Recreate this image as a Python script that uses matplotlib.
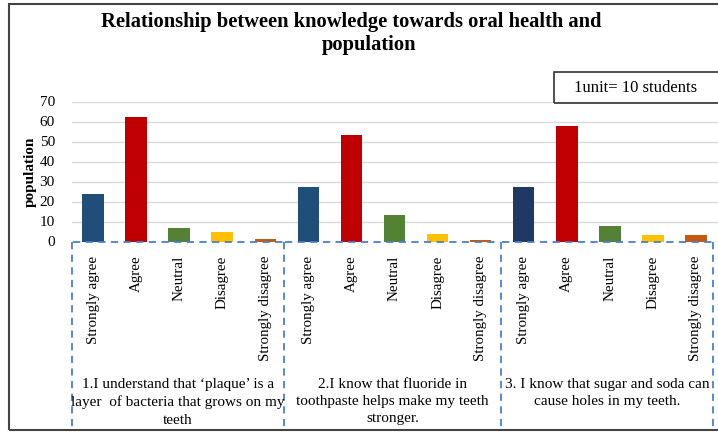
import numpy as np
import matplotlib
matplotlib.use("Agg")
import matplotlib.pyplot as plt
import matplotlib.transforms as mtransforms
from matplotlib.patches import Rectangle

# Survey responses (population, 1 unit = 10 students)
responses = ["Strongly agree", "Agree", "Neutral", "Disagree", "Strongly disagree"]
statements = [
    "1.I understand that \u2018plaque\u2019 is a\nlayer  of bacteria that grows on my\nteeth",
    "2.I know that fluoride in\ntoothpaste helps make my teeth\nstronger.",
    "3. I know that sugar and soda can\ncause holes in my teeth.",
]
plaque = [24, 62.5, 7, 5, 1.5]
fluoride = [27.5, 53.5, 13.5, 4, 1]
sugar = [27.5, 58, 8, 3.5, 3.5]

palette = ["#1F4E79", "#C00000", "#548235", "#FFC000", "#C55A11"]

plt.rcParams["font.family"] = ["Liberation Serif", "DejaVu Serif"]

fig = plt.figure(figsize=(7.18, 4.32), dpi=100)
ax = fig.add_axes([71.5 / 718, 1 - 241.5 / 432, 646 / 718, 140 / 432])

values = plaque + fluoride + sugar
labels = responses * 3
colors = palette * 3
colors[10] = "#203864"  # darker navy for the last group
x = np.arange(len(values))

ax.bar(x, values, width=0.5, color=colors, zorder=2)

ax.set_xlim(-0.5, 14.5)
ax.set_ylim(0, 70)
ax.set_yticks(np.arange(0, 71, 10))
ax.set_xticks(x)
ax.set_xticklabels(labels, rotation=90, va="top", ha="center", fontsize=10.8)
ax.tick_params(axis="x", length=0, pad=10)
ax.tick_params(axis="y", length=0, pad=12, labelsize=11)
ax.yaxis.grid(True, color="#D9D9D9", linewidth=1, zorder=0)
for s in ax.spines.values():
    s.set_visible(False)

ax.set_ylabel("population", fontsize=11, fontweight="bold", labelpad=2)

# dashed boxes around each statement group
trans = mtransforms.blended_transform_factory(ax.transData, ax.transAxes)
edges = [-0.5, 4.43, 9.47, 14.4]
bottom = (241.5 - 431) / 140
dash = dict(color="#4A7FD0", linestyle=(0, (4, 3)), linewidth=1.3,
            transform=trans, clip_on=False, zorder=3)
for left, right in zip(edges[:-1], edges[1:]):
    ax.plot([left + 0.03, right - 0.03], [0, 0], **dash)
for edge in edges:
    ax.plot([edge, edge], [0, bottom], **dash)

# statement captions beneath the response labels
for i, text in enumerate(statements):
    ax.text((edges[i] + edges[i + 1]) / 2, (241.5 - 378) / 140, text, transform=trans,
            ha="center", va="top", fontsize=11, linespacing=1.42)

fig.text(351 / 718, 1 - 22 / 432, "Relationship between knowledge towards oral health and",
         ha="center", va="center", fontsize=14.8, fontweight="bold")
fig.text(369 / 718, 1 - 45 / 432, "population",
         ha="center", va="center", fontsize=14.8, fontweight="bold")

# unit note box
fig.text(636 / 718, 1 - 88 / 432, "1unit= 10 students", ha="center", va="center",
         fontsize=12)
fig.add_artist(Rectangle((554 / 718, 1 - 103 / 432), 170 / 718, 31 / 432,
                         transform=fig.transFigure, fill=False,
                         edgecolor="#333333", linewidth=1.2))

# outer frame
fig.add_artist(Rectangle((9 / 718, 2 / 432), 720 / 718, 426 / 432,
                         transform=fig.transFigure, fill=False,
                         edgecolor="#444444", linewidth=1.5))

fig.savefig("out.png", dpi=100)
